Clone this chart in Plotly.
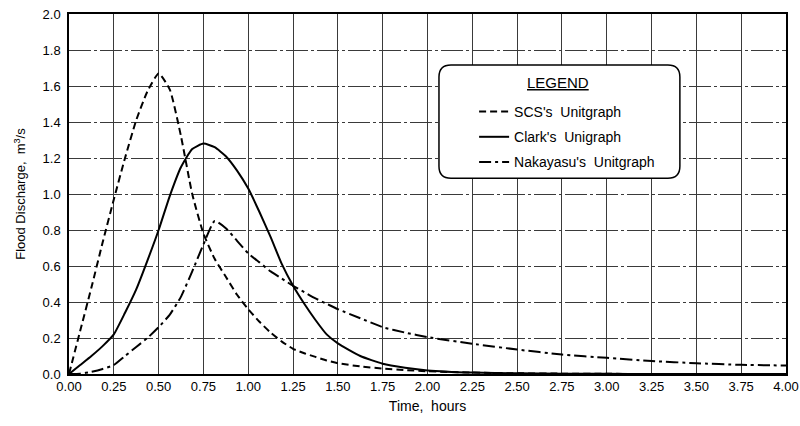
import plotly.graph_objects as go

# ---- data ----
time_h = [0, 0.0625, 0.125, 0.1875, 0.25, 0.3125, 0.375, 0.4375, 0.5, 0.5625,
          0.625, 0.6875, 0.75, 0.8125, 0.875, 0.9375, 1.0, 1.0625, 1.125, 1.1875,
          1.25, 1.3125, 1.375, 1.4375, 1.5, 1.625, 1.75, 1.875, 2.0, 2.25,
          2.5, 2.75, 3.0, 3.25, 3.5, 3.75, 4.0]

scs_q = [0, 0.24, 0.48, 0.73, 0.97, 1.2, 1.41, 1.57, 1.67, 1.58,
         1.32, 1.0, 0.78, 0.64, 0.54, 0.44, 0.36, 0.29, 0.23, 0.18,
         0.14, 0.115, 0.095, 0.075, 0.06, 0.042, 0.03, 0.022, 0.015, 0.008,
         0.004, 0.002, 0.001, 0, 0, 0, 0]

clark_q = [0, 0.05, 0.10, 0.155, 0.22, 0.34, 0.47, 0.63, 0.8, 0.99,
           1.15, 1.25, 1.28, 1.26, 1.21, 1.13, 1.03, 0.9, 0.76, 0.61,
           0.49, 0.39, 0.3, 0.22, 0.17, 0.1, 0.057, 0.035, 0.02, 0.008,
           0.004, 0.002, 0.001, 0, 0, 0, 0]

nakayasu_q = [0, 0.002, 0.012, 0.028, 0.05, 0.1, 0.15, 0.2, 0.26, 0.33,
              0.43, 0.57, 0.72, 0.85, 0.81, 0.74, 0.67, 0.62, 0.57, 0.53,
              0.49, 0.455, 0.42, 0.39, 0.36, 0.31, 0.26, 0.23, 0.205, 0.168,
              0.136, 0.108, 0.09, 0.072, 0.06, 0.051, 0.047]

series_names = ["SCS's  Unitgraph", "Clark's  Unigraph", "Nakayasu's  Unitgraph"]
legend_title = "LEGEND"

FONT = "Liberation Sans, Arial, sans-serif"

fig = go.Figure()
fig.add_trace(go.Scatter(x=time_h, y=scs_q, name=series_names[0], mode="lines", legendgroup="a",
                         line=dict(color="black", width=2, dash="7px,4px", shape="spline", smoothing=0.5)))
fig.add_trace(go.Scatter(x=time_h, y=clark_q, name=series_names[1], mode="lines", legendgroup="b",
                         line=dict(color="black", width=2, shape="spline", smoothing=0.5)))
fig.add_trace(go.Scatter(x=time_h, y=nakayasu_q, name=series_names[2], mode="lines", legendgroup="c",
                         line=dict(color="black", width=2, dash="12px,4px,3px,4px", shape="spline", smoothing=0.5)))

# rounded legend box (paper coords)
x0, x1, y0, y1 = 0.516, 0.852, 0.544, 0.858
rx, ry = 12 / 717, 12 / 360
path = (f"M {x0+rx},{y1} L {x1-rx},{y1} Q {x1},{y1} {x1},{y1-ry} "
        f"L {x1},{y0+ry} Q {x1},{y0} {x1-rx},{y0} L {x0+rx},{y0} "
        f"Q {x0},{y0} {x0},{y0+ry} L {x0},{y1-ry} Q {x0},{y1} {x0+rx},{y1} Z")
fig.add_shape(type="path", path=path, xref="paper", yref="paper",
              line=dict(color="black", width=1.5), fillcolor="white", layer="above")

fig.add_annotation(text=f"<u>{legend_title}</u>", xref="paper", yref="paper",
                   x=(558 - 69) / 717, y=(374 - 82) / 360, xanchor="center", yanchor="middle",
                   showarrow=False, font=dict(family=FONT, size=15, color="black"))

fig.update_layout(
    width=800, height=426,
    margin=dict(l=69, r=14, t=14, b=52),
    paper_bgcolor="white", plot_bgcolor="white",
    font=dict(family=FONT, color="black", size=13),
    showlegend=True,
    legend=dict(
        x=0.565, y=(374 - 96) / 360, xanchor="left", yanchor="top",
        bgcolor="rgba(0,0,0,0)", borderwidth=0,
        font=dict(family=FONT, size=14, color="black"),
        tracegroupgap=4, itemwidth=30,
    ),
    xaxis=dict(
        range=[0, 4], dtick=0.25, tick0=0, tickformat=".2f",
        showgrid=True, gridcolor="#3a3a3a", gridwidth=1,
        showline=True, linecolor="black", linewidth=1.5, mirror=True,
        zeroline=False, ticks="", automargin=False,
        tickfont=dict(family=FONT, size=13, color="black"),
        title=dict(text="Time,  hours", standoff=8,
                   font=dict(family=FONT, size=14, color="black")),
    ),
    yaxis=dict(
        range=[0, 2], dtick=0.2, tick0=0, tickformat=".1f",
        showgrid=True, gridcolor="#3a3a3a", gridwidth=1, griddash="22px,3px,3px,3px",
        showline=True, linecolor="black", linewidth=1.5, mirror=True,
        zeroline=False, ticks="", automargin=False, ticklabelstandoff=4,
        tickfont=dict(family=FONT, size=13, color="black"),
        title=dict(text="Flood Discharge,  m<sup>3</sup>/s", standoff=14,
                   font=dict(family=FONT, size=13, color="black")),
    ),
)

fig.write_html("out.html", config={"displayModeBar": False},
               post_script="document.body.style.margin='0';document.body.style.overflow='hidden';")
